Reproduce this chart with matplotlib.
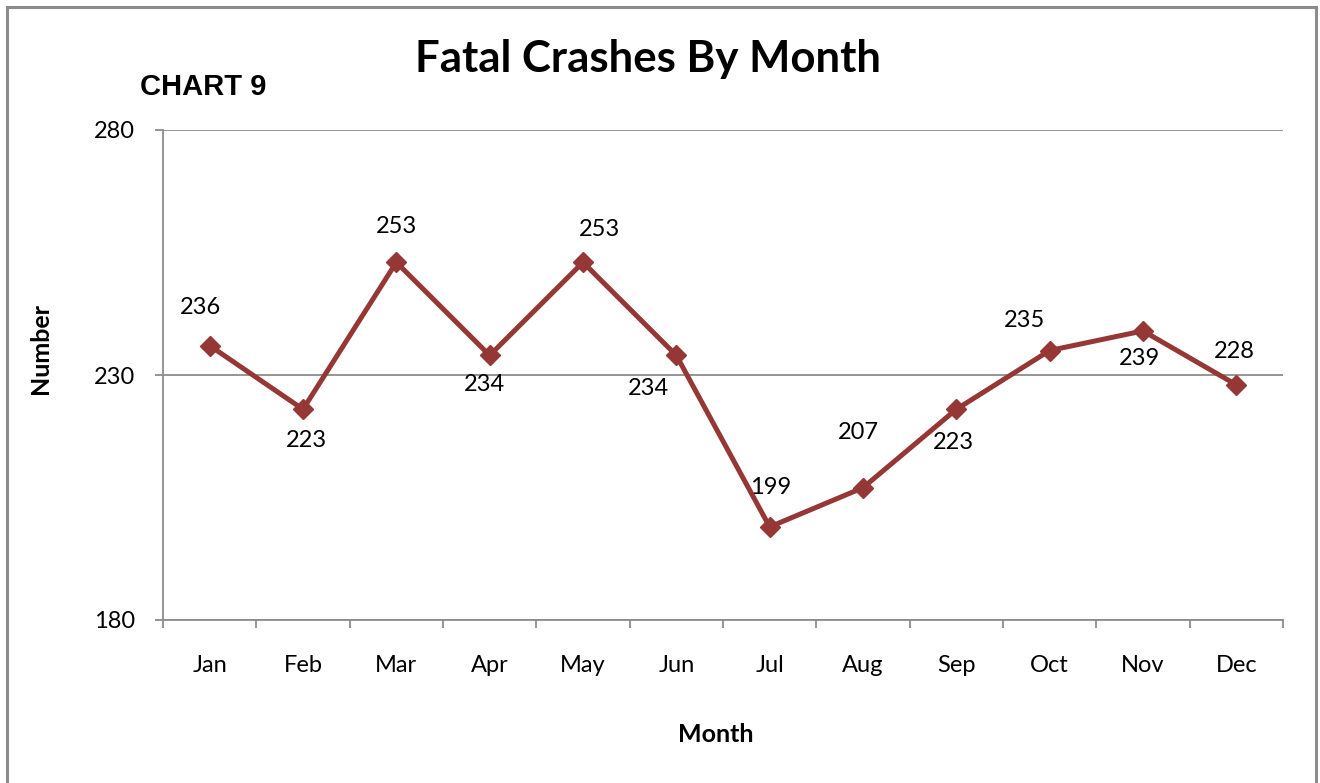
import matplotlib
matplotlib.use("Agg")
import matplotlib.pyplot as plt
from matplotlib.patches import Rectangle

months = ['Jan', 'Feb', 'Mar', 'Apr', 'May', 'Jun',
          'Jul', 'Aug', 'Sep', 'Oct', 'Nov', 'Dec']
crashes = [236, 223, 253, 234, 253, 234, 199, 207, 223, 235, 239, 228]
y_ticks = [180, 230, 280]

# label offsets in pixels (dx, dy) from each point, like the excel layout
label_offsets = [(-9, 38), (3, -31), (0, 36), (-5, -29), (16, 33), (-28, -33),
                 (1, 39), (-5, 55), (-3, -33), (-25, 30), (-3, -28), (-2, 33)]

line_color = '#953735'
grid_color = '#8c8c8c'

plt.rcParams['font.family'] = ['Lato', 'DejaVu Sans']

fig = plt.figure(figsize=(13.2, 7.83), dpi=100)
ax = fig.add_axes([163 / 1320, 1 - 620 / 783, 1120 / 1320, 490 / 783])

x = list(range(len(months)))
ax.plot(x, crashes, color=line_color, linewidth=3.6, marker='D',
        markersize=10, zorder=3)

for i, v in enumerate(crashes):
    dx, dy = label_offsets[i]
    ax.annotate(str(v), (x[i], v), xytext=(dx, dy), textcoords='offset pixels',
                ha='center', va='center', fontsize=17)

ax.set_xlim(-0.5, len(months) - 0.5)
ax.set_ylim(y_ticks[0], y_ticks[-1])
ax.set_yticks(y_ticks)
ax.set_yticklabels([str(t) for t in y_ticks], fontsize=17)
ax.set_xticks(x)
ax.set_xticklabels(months, fontsize=17)
ax.set_xticks([i - 0.5 for i in range(len(months) + 1)], minor=True)
ax.tick_params(axis='x', which='major', length=0, pad=25)
ax.tick_params(axis='x', which='minor', length=6, color=grid_color, width=1.3)
ax.tick_params(axis='y', length=6, color=grid_color, width=1.3, pad=14)
ax.yaxis.grid(True, color=grid_color, linewidth=1.3)
ax.set_axisbelow(True)

for side in ['top', 'right']:
    ax.spines[side].set_visible(False)
for side in ['left', 'bottom']:
    ax.spines[side].set_color(grid_color)
    ax.spines[side].set_linewidth(1.3)

ax.set_xlabel('Month', fontsize=18, fontweight='bold', va='center')
ax.set_ylabel('Number', fontsize=18, fontweight='bold', va='center')
ax.xaxis.set_label_coords((716 - 163) / 1120, (620 - 735) / 490)
ax.yaxis.set_label_coords((40 - 163) / 1120, (620 - 348) / 490)

fig.text(648 / 1320, 1 - 59 / 783, 'Fatal Crashes By Month', ha='center',
         va='center', fontsize=31.5, fontweight='bold')
fig.text(140 / 1320, 1 - 87 / 783, 'CHART 9', ha='left', va='center',
         fontsize=21, fontweight='bold', family='Liberation Sans')

# outer chart frame
fig.patches.append(Rectangle((7 / 1320, -0.05), 1309 / 1320, 1.05 - 7 / 783,
                             transform=fig.transFigure, fill=False,
                             edgecolor='#8c8c8c', linewidth=2.2))

fig.savefig('out.png', dpi=100)
